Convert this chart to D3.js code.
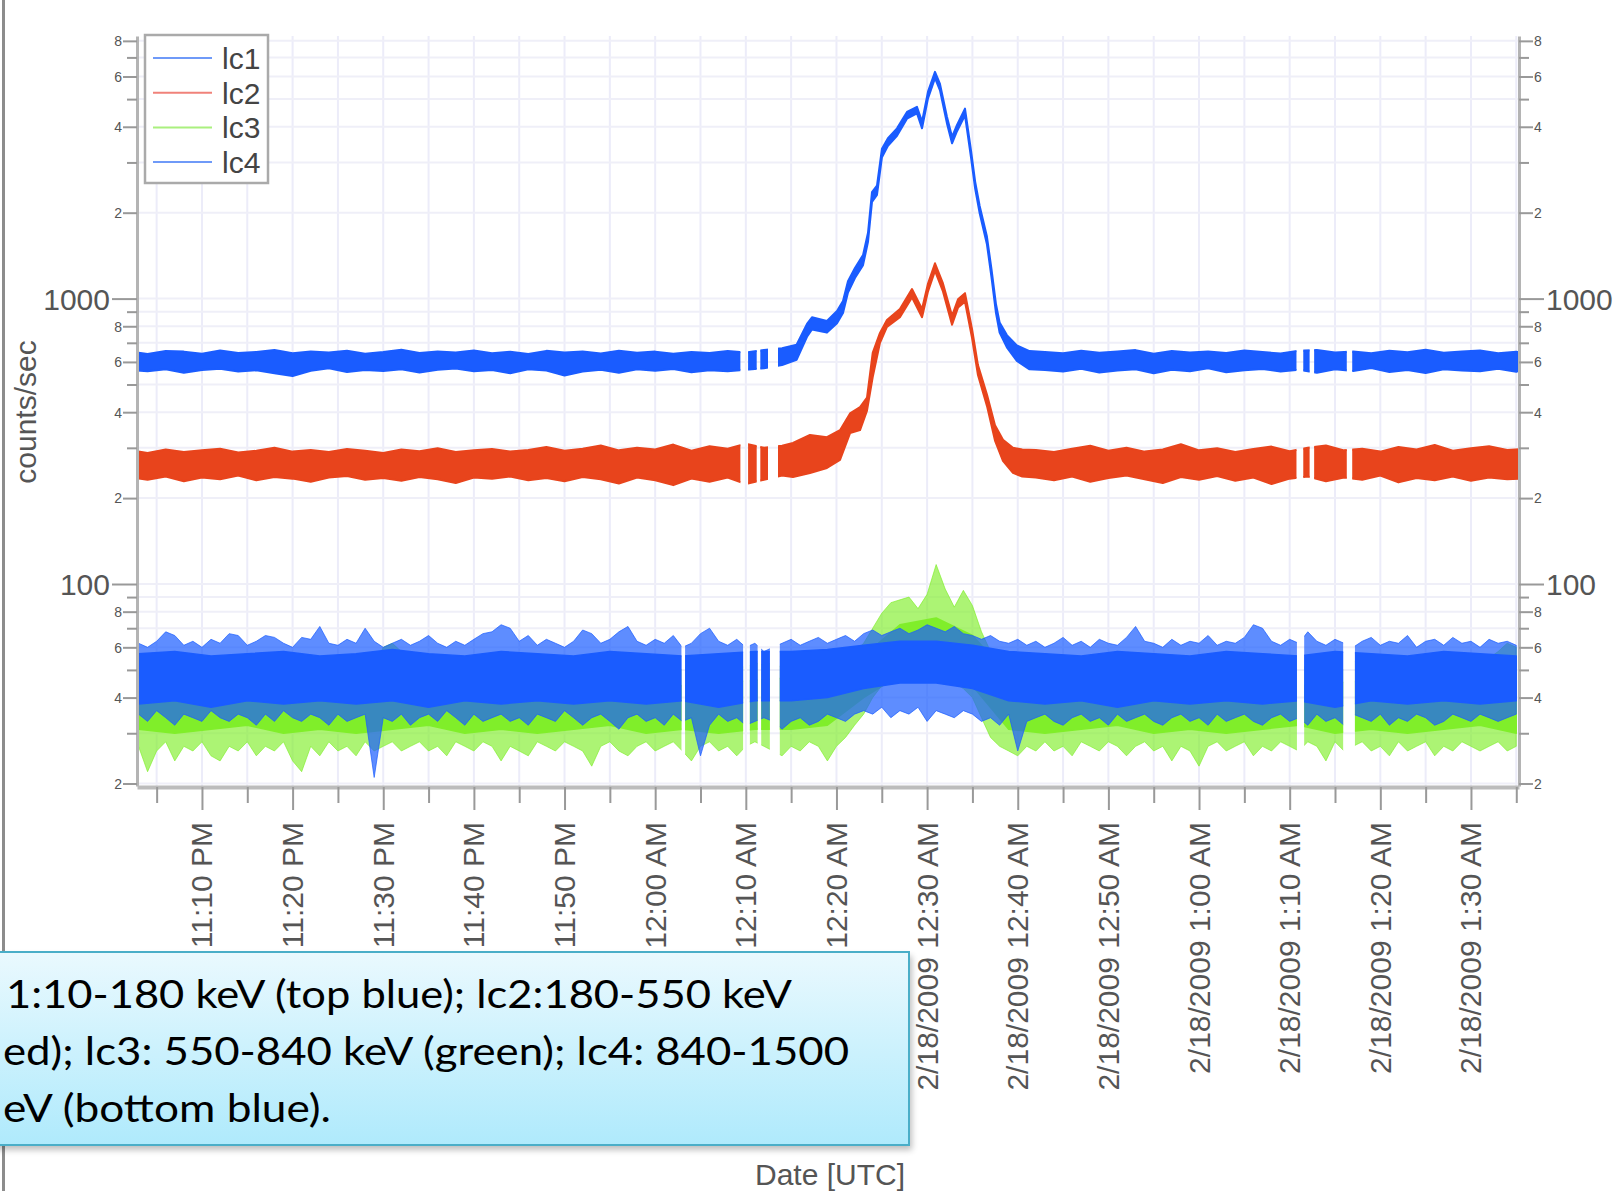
<!DOCTYPE html>
<html><head><meta charset="utf-8">
<script src="https://cdn.jsdelivr.net/npm/d3@7"></script>
<style>body{margin:0;background:#fff;overflow:hidden}svg{display:block}</style>
</head><body>
<svg id="chart" width="1620" height="1191"></svg>
<script>
// ================= DATA =================
// time values are minutes after 2/17/2009 23:00 UTC, values in counts/sec
const seriesNames = ["lc1", "lc2", "lc3", "lc4"];
const seriesColors = ["#1a5cff", "#e8441c", "#80ee2a", "#1a5cff"];
const legendColors = ["#6f9af8", "#f0827a", "#aaf07e", "#6f9af8"];

const lc1Time = [2.8,4,6,8,10,12,14,16,18,20,22,24,26,28,30,32,34,36,38,40,42,44,46,48,50,52,54,56,58,60,62,64,66,68,70,72,74,
  75.6,76.75,77.3,78.95,80.06,80.72,81.27,82.04,82.93,83.48,83.92,84.47,85.02,85.68,86.68,87.78,88.88,89.44,90.1,90.87,91.42,92.19,92.75,93.3,94.18,94.85,95.3,95.8,96.6,97.1,97.6,98.0,98.8,99.9,101.3,
  103,105,107,109,111,113,115,117,119,121,123,125,127,129,131,133,135,137,139,141,143,145,147,149,151,153,155,155.4];
const lc1Lo = [560,556,566,550,562,568,555,561,548,535,559,570,553,562,558,566,551,563,569,557,562,548,566,560,538,555,563,550,565,559,567,552,561,556,563,570,585,
  610,735,780,760,820,890,1050,1180,1310,1580,2180,2310,3130,3430,3720,4270,4460,3950,5030,5920,5370,4110,3500,3860,4390,3110,2430,1990,1550,1190,890,760,675,605,565,
  562,555,568,551,560,566,548,563,557,570,552,561,567,555,563,550,566,558,571,553,562,549,565,560,556,568,554,560];
const lc1Hi = [648,640,655,652,641,658,645,650,660,643,652,648,656,641,650,662,645,653,647,658,644,651,640,656,648,653,642,657,646,652,641,650,645,655,648,660,670,
  690,815,860,835,905,980,1150,1280,1420,1700,2360,2490,3350,3650,3950,4510,4700,4170,5310,6230,5650,4340,3690,4060,4630,3290,2570,2110,1650,1270,955,825,745,685,655,
  650,643,657,646,652,660,641,655,648,653,645,658,650,642,656,661,647,652,644,657,649,662,646,653,658,644,651,648];

const lc2Time = [2.8,4,6,8,10,12,14,16,18,20,22,24,26,28,30,32,34,36,38,40,42,44,46,48,50,52,54,56,58,60,62,64,66,68,70,72,74,
  75.2,77.08,78.95,80.39,81.5,82.6,83.37,84.0,84.8,85.57,87.0,88.33,89.44,90.1,90.87,91.75,92.75,93.41,94.18,94.95,95.61,96.61,97.49,98.37,99.47,100.5,
  102,104,106,108,110,112,114,116,118,120,122,124,126,128,130,132,134,136,138,140,142,144,146,148,150,152,154,155.4];
const lc2Lo = [235,232,238,229,236,233,240,231,237,234,228,236,239,232,235,230,237,233,226,236,234,238,231,235,229,237,233,225,236,231,222,234,228,236,224,232,240,
  237,245,255,272,338,346,405,531,700,796,860,1010,860,1060,1250,1060,810,930,975,730,540,420,318,270,245,238,
  236,231,238,228,235,240,233,226,237,232,239,230,236,224,234,238,229,236,232,240,227,235,231,238,230,236,233,234];
const lc2Hi = [292,288,296,290,294,298,289,293,300,291,295,290,297,293,288,296,292,299,290,294,297,291,295,302,293,298,306,294,300,296,308,293,304,298,310,300,305,
  312,333,327,346,396,417,450,645,758,841,920,1080,920,1130,1330,1130,870,995,1045,785,585,460,360,320,300,296,
  295,290,298,305,293,300,291,296,309,294,299,290,297,303,292,300,306,294,298,291,302,296,307,293,299,304,295,297];

// lc3 / lc4: one reading per minute from minute 3 to minute 155 (outer envelope, spikes)
const lc34Start = 3, lc34Step = 1;
const lc3Lo = [27,22,26,28,24,27,26,28,25,24, 27,26,28,25,27,26,28,24,22,27, 25,28,26,27,25,28,26,27,28,26, 27,28,26,27,25,28,27,26,28,27,
  24,27,26,25,28,27,26,28,27,26, 23,27,28,26,25,27,28,26,27,28, 26,24,27,28,26,27,25,27,28,27, 26,25,27,26,28,27,24,27,29,32,
  35,40,44,46,47,46,48,49,47,46, 45,43,40,34,29,27,26,25,27,26, 28,26,27,25,28,27,26,28,27,25, 27,28,26,27,24,27,26,23,27,28,
  26,27,28,25,27,26,28,27,26,28, 27,24,28,26,27,28,26,27,25,28, 26,27,28,25,27,26,28,27,26,27, 28,26,27];
const lc3Hi = [52,50,53,51,54,50,52,53,51,52, 50,53,51,52,54,50,52,51,53,50, 52,54,51,50,53,52,51,60,62,58, 55,52,50,53,51,52,54,50,52,51,
  53,50,52,54,51,52,50,53,51,52, 54,50,52,51,53,52,50,54,51,52, 50,53,52,51,54,50,52,51,53,52, 53,51,54,52,55,53,56,54,57,58,
  62,70,79,86,88,90,82,92,117,96, 83,95,84,68,58,54,52,53,51,52, 50,53,51,52,54,50,52,51,53,50, 52,54,51,50,53,52,51,54,52,50,
  53,51,52,50,54,52,51,53,50,52, 51,53,52,50,54,51,52,53,50,52, 54,51,52,50,53,52,51,54,52,55, 58,62,60];
const lc4Lo = [35,33,36,34,32,35,34,33,36,34, 33,35,34,32,35,33,36,34,33,35, 34,32,35,33,34,35,21,34,33,35, 32,34,35,33,36,34,32,35,33,34,
  35,33,34,32,35,34,33,36,34,32, 34,35,33,31,34,35,33,34,32,35, 33,34,25,32,35,33,34,32,33,34, 33,31,33,34,32,33,35,34,33,35,
  36,35,37,34,36,35,37,33,36,35, 34,36,35,33,34,32,35,26,33,34, 35,33,32,34,35,33,34,32,35,33, 34,35,33,32,34,35,33,34,32,35,
  33,34,35,33,32,34,35,33,34,32, 35,33,34,32,35,34,33,35,32,34, 33,35,34,32,33,35,34,33,35,34, 33,34,35];
const lc4Hi = [62,60,63,68,66,61,63,60,64,62, 67,66,61,63,66,65,62,60,65,64, 71,62,61,64,62,70,63,60,62,64, 61,63,66,62,60,63,61,64,67,68,
  72,70,63,66,61,64,62,60,63,69, 67,62,64,68,71,63,61,64,62,66, 60,62,67,70,63,61,64,60,62,58, 60,62,64,61,63,65,62,64,66,63,
  67,69,66,68,70,67,69,72,70,68, 71,67,66,64,66,63,62,64,61,63, 60,62,65,61,63,60,64,62,61,65, 71,63,62,60,64,61,63,62,66,61,
  63,62,65,72,70,63,61,64,62,68, 63,61,64,62,60,63,65,61,63,62, 66,60,63,64,61,65,62,63,60,64, 62,63,61];
// dense core of lc3 / lc4, one reading every 4 minutes from minute 3
const core34Start = 3, core34Step = 4;
const lc3CoreLo = [31,30,31,32,30,31,30,31,32,30, 31,30,31,32,30,31,30,31,31,32, 40,48,50,44,31,30,31,32,30,31, 30,31,32,30,31,30,31,32,30];
const lc3CoreHi = [45,46,45,44,45,46,45,44,45,46, 45,44,45,46,45,44,45,46,47,50, 56,72,76,66,48,45,46,45,44,45, 46,45,44,45,46,45,44,45,46];
const lc4CoreLo = [38,39,37,39,38,39,38,39,37,39, 38,39,38,39,38,39,37,39,39,40, 43,45,45,43,39,38,39,37,39,38, 39,38,39,37,39,38,39,38,39];
const lc4CoreHi = [57,58,56,57,58,56,57,59,57,56, 58,57,56,58,57,56,57,58,58,59, 61,63,63,61,58,57,56,58,57,56, 58,57,56,58,57,56,58,57,56];

// data gaps [from, to] in minutes
const gaps12 = [[69.4,70.25],[71.2,71.6],[72.45,73.55],[130.75,131.5],[132.2,132.7],[136.3,136.9]];
const gaps34 = [[62.9,63.3],[69.7,70.45],[71.3,71.7],[72.65,73.75],[130.8,131.6],[135.9,137.2]];

const yTickValues = [20,30,40,50,60,70,80,90,100,200,300,400,500,600,700,800,900,1000,2000,3000,4000,5000,6000,7000,8000];
const yTickText  = ["2","","4","","6","","8","","100","2","","4","","6","","8","","1000","2","","4","","6","","8"];
const calloutLines = ["1:10-180 keV (top blue); lc2:180-550 keV", "ed); lc3: 550-840 keV (green); lc4: 840-1500", "eV (bottom blue)."];

// ================= CHART =================
const svg = d3.select("#chart");
const plot = {left: 137, right: 1519, top: 36, bottom: 786};
const t0 = Date.UTC(2009, 1, 17, 23, 0, 0);
const toDate = m => new Date(t0 + m * 60000);
const x = d3.scaleUtc().domain([toDate(2 + 50/60), toDate(155 + 18/60)]).range([plot.left, plot.right]);
const y = d3.scaleLog().domain([19.6, 8320]).range([plot.bottom, plot.top]);
const FONT = "'Liberation Sans', Arial, sans-serif";
const TXT = "#555";

const defs = svg.append("defs");
// slide left border
svg.append("rect").attr("x", 2).attr("y", 0).attr("width", 3).attr("height", 1191).attr("fill", "#8c8c8c");

// gridlines
const xTicks = x.ticks(d3.utcMinute.every(5));
const grid = svg.append("g");
grid.selectAll("line.gx").data(xTicks).join("line")
  .attr("x1", d => x(d)).attr("x2", d => x(d)).attr("y1", plot.top).attr("y2", plot.bottom)
  .attr("stroke", "#ececf9").attr("stroke-width", 2);
grid.selectAll("line.gy").data(yTickValues).join("line")
  .attr("x1", plot.left).attr("x2", plot.right).attr("y1", d => y(d)).attr("y2", d => y(d))
  .attr("stroke", "#efeff8").attr("stroke-width", 2);

// clip paths for data gaps
function makeClip(id, gaps) {
  const cp = defs.append("clipPath").attr("id", id);
  let s = x.domain()[0];
  const parts = [];
  gaps.forEach(([a, b]) => { parts.push([s, toDate(a)]); s = toDate(b); });
  parts.push([s, x.domain()[1]]);
  parts.forEach(([a, b]) => cp.append("rect").attr("x", x(a)).attr("width", Math.max(0, x(b) - x(a)))
    .attr("y", plot.top).attr("height", plot.bottom - plot.top));
}
makeClip("clip12", gaps12);
makeClip("clip34", gaps34);

function band(g, times, lo, hi, color, opacity, sw) {
  const a = d3.area().x((d, i) => x(toDate(times[i]))).y0((d, i) => y(lo[i])).y1((d, i) => y(hi[i]));
  g.append("path").attr("d", a(lo)).attr("fill", color).attr("fill-opacity", opacity)
    .attr("stroke", color).attr("stroke-opacity", opacity).attr("stroke-width", sw).attr("stroke-linejoin", "round");
}
const gridTimes = (start, step, n) => Array.from({length: n}, (_, i) => start + i * step);
const t34 = gridTimes(lc34Start, lc34Step, lc4Lo.length);
const tCore = gridTimes(core34Start, core34Step, lc4CoreLo.length);

const g34 = svg.append("g").attr("clip-path", "url(#clip34)");
band(g34, t34, lc3Lo, lc3Hi, seriesColors[2], 0.65, 1);
band(g34, tCore, lc3CoreLo, lc3CoreHi, seriesColors[2], 1, 1.5);
band(g34, t34, lc4Lo, lc4Hi, seriesColors[3], 0.7, 1);
band(g34, tCore, lc4CoreLo, lc4CoreHi, seriesColors[3], 1, 1.5);

const g12 = svg.append("g").attr("clip-path", "url(#clip12)");
band(g12, lc2Time, lc2Lo, lc2Hi, seriesColors[1], 1, 2);
band(g12, lc1Time, lc1Lo, lc1Hi, seriesColors[0], 1, 2);

// ---------- axes ----------
function styleYAxis(g, side) {
  const s = side === "left" ? -1 : 1;
  g.select(".domain").attr("stroke", "#b4b4b4").attr("stroke-width", 3);
  g.selectAll(".tick").each(function(d, i) {
    const t = d3.select(this);
    const lab = yTickText[i];
    const major = lab.length > 1;
    const len = major ? 25 : (lab ? 14 : 10);
    t.select("line").attr("x2", s * len).attr("stroke", "#999").attr("stroke-width", 2);
    t.select("text").attr("x", s * (len + (major ? 2 : 1))).attr("dy", "0.35em")
      .attr("font-size", major ? 30 : 14).attr("fill", TXT).attr("font-family", FONT)
      .attr("text-anchor", side === "left" ? "end" : "start");
  });
}
const yl = svg.append("g").attr("transform", `translate(${plot.left},0)`)
  .call(d3.axisLeft(y).tickValues(yTickValues).tickFormat((d, i) => yTickText[i]).tickSizeOuter(0));
styleYAxis(yl, "left");
const yr = svg.append("g").attr("transform", `translate(${plot.right},0)`)
  .call(d3.axisRight(y).tickValues(yTickValues).tickFormat((d, i) => yTickText[i]).tickSizeOuter(0));
styleYAxis(yr, "right");

const fmt = d3.utcFormat("%-m/%-d/%Y %-I:%M %p");
const xb = svg.append("g").attr("transform", `translate(0,${plot.bottom + 1})`)
  .call(d3.axisBottom(x).tickValues(xTicks).tickFormat("").tickSizeOuter(0));
xb.select(".domain").attr("stroke", "#bcbcbc").attr("stroke-width", 4);
xb.selectAll(".tick line").attr("stroke", "#999").attr("stroke-width", 2)
  .attr("y2", d => d.getUTCMinutes() % 10 === 0 ? 23 : 16);
svg.append("g").selectAll("text").data(xTicks.filter(d => d.getUTCMinutes() % 10 === 0)).join("text")
  .attr("transform", d => `translate(${x(d)},822) rotate(-90)`)
  .attr("text-anchor", "end").attr("dy", "0.35em")
  .attr("font-family", FONT).attr("font-size", 30).attr("fill", TXT)
  .text(d => fmt(d));

// axis titles
svg.append("text").attr("transform", "translate(36,412) rotate(-90)").attr("text-anchor", "middle")
  .attr("font-family", FONT).attr("font-size", 30).attr("fill", TXT).text("counts/sec");
svg.append("text").attr("x", 830).attr("y", 1185).attr("text-anchor", "middle")
  .attr("font-family", FONT).attr("font-size", 30).attr("fill", TXT).text("Date [UTC]");

// legend
const lg = svg.append("g");
lg.append("rect").attr("x", 145).attr("y", 35).attr("width", 123).attr("height", 148)
  .attr("fill", "#fff").attr("stroke", "#aaa").attr("stroke-width", 2.5);
seriesNames.forEach((n, i) => {
  const yy = 58 + i * 34.7;
  lg.append("line").attr("x1", 153).attr("x2", 212).attr("y1", yy).attr("y2", yy)
    .attr("stroke", legendColors[i]).attr("stroke-width", 2);
  lg.append("text").attr("x", 222).attr("y", yy).attr("dy", "0.36em")
    .attr("font-family", FONT).attr("font-size", 30).attr("fill", "#444").text(n);
});

// callout box
const grad = defs.append("linearGradient").attr("id", "boxGrad").attr("x1", 0).attr("y1", 0).attr("x2", 0).attr("y2", 1);
grad.append("stop").attr("offset", 0).attr("stop-color", "#eaf9fe");
grad.append("stop").attr("offset", 1).attr("stop-color", "#afeafc");
const blur = defs.append("filter").attr("id", "shadow").attr("x", -0.1).attr("y", -0.1).attr("width", 1.3).attr("height", 1.4);
blur.append("feGaussianBlur").attr("stdDeviation", 3);
svg.append("rect").attr("x", -10).attr("y", 956).attr("width", 922).attr("height", 194)
  .attr("fill", "#000").attr("opacity", 0.25).attr("filter", "url(#shadow)");
svg.append("rect").attr("x", -10).attr("y", 952).attr("width", 919).attr("height", 193)
  .attr("fill", "url(#boxGrad)").attr("stroke", "#4aaec8").attr("stroke-width", 2);
const lineRight = [792, 849, 331], lineLeft = [6, 3, 3], lineBase = [1008, 1065, 1122];
calloutLines.forEach((s, i) => {
  svg.append("text").attr("font-family", "Lato, 'Open Sans', sans-serif").attr("font-size", 39)
    .attr("fill", "#000").attr("x", lineLeft[i]).attr("y", lineBase[i])
    .attr("textLength", lineRight[i] - lineLeft[i]).attr("lengthAdjust", "spacingAndGlyphs").text(s);
});
</script>
</body></html>
